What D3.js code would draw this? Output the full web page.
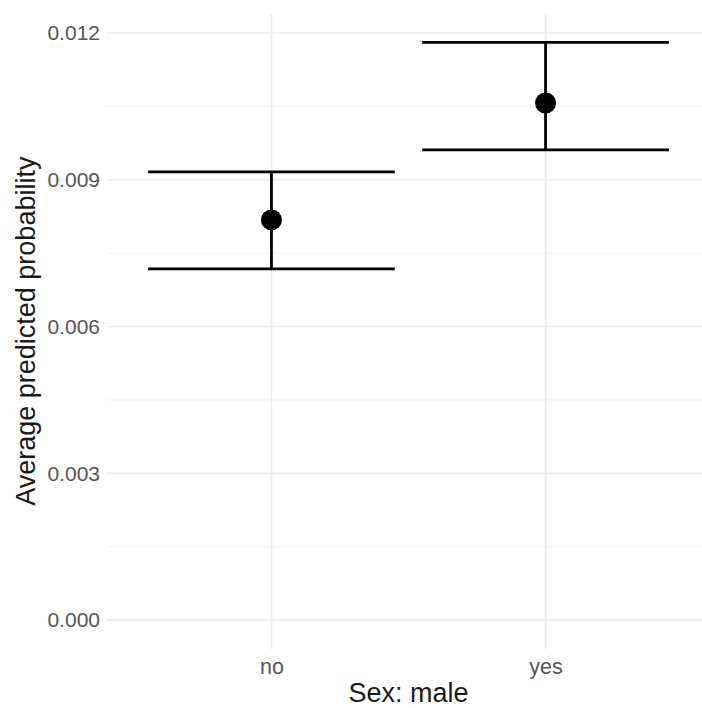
<!DOCTYPE html>
<html>
<head>
<meta charset="utf-8">
<script src="https://cdn.jsdelivr.net/npm/d3@7"></script>
<style>
  html, body { margin: 0; padding: 0; background: #fff; }
  svg { display: block; }
</style>
</head>
<body>
<svg id="chart" width="702" height="708"></svg>
<script>
const categories = ["no", "yes"];
const estimates = [0.00818, 0.01057];
const lowerCI = [0.00718, 0.00961];
const upperCI = [0.00916, 0.01181];
const yTicks = [0, 0.003, 0.006, 0.009, 0.012];
const yMinorTicks = [0.0015, 0.0045, 0.0075, 0.0105];
const xTitle = "Sex: male";
const yTitle = "Average predicted probability";

(function () {
const data = categories.map((c, i) => ({ cat: c, est: estimates[i], lo: lowerCI[i], hi: upperCI[i] }));

const svg = d3.select("#chart");
const pLeft = 107, pRight = 710, pTop = 13.4, pBottom = 649;
const FONT = "Liberation Sans, Arial, Helvetica, sans-serif";

const yMin = 0, yMax = d3.max(upperCI);
const pad = (yMax - yMin) * 0.05;
const y = d3.scaleLinear().domain([yMin - pad, yMax + pad]).range([pBottom, pTop]);

// discrete x: positions 1..n with 0.6 expansion
const x = d3.scaleLinear().domain([0.4, categories.length + 0.6]).range([pLeft, pRight]);
const xPos = c => x(categories.indexOf(c) + 1);
const unit = x(2) - x(1);

const grid = svg.append("g");
grid.selectAll(".minor").data(yMinorTicks).join("line")
  .attr("x1", pLeft).attr("x2", pRight)
  .attr("y1", d => y(d)).attr("y2", d => y(d))
  .attr("stroke", "#f2f2f2").attr("stroke-width", 1);
grid.selectAll(".major").data(yTicks).join("line")
  .attr("x1", pLeft).attr("x2", pRight)
  .attr("y1", d => y(d)).attr("y2", d => y(d))
  .attr("stroke", "#ebebeb").attr("stroke-width", 1.6);
grid.selectAll(".vmajor").data(categories).join("line")
  .attr("x1", d => xPos(d)).attr("x2", d => xPos(d))
  .attr("y1", pTop).attr("y2", pBottom)
  .attr("stroke", "#ebebeb").attr("stroke-width", 1.6);

// y axis labels
const yAxis = d3.axisLeft(y).tickValues(yTicks).tickFormat(d3.format(".3f")).tickSize(0).tickPadding(7);
const yg = svg.append("g").attr("transform", `translate(${pLeft},0)`).call(yAxis);
yg.select(".domain").remove();
yg.selectAll("text").attr("font-family", FONT)
  .attr("font-size", 21).attr("fill", "#555");

// x axis labels
const xAxis = d3.axisBottom(d3.scalePoint().domain(categories).range([x(1), x(2)]))
  .tickSize(0).tickPadding(0);
const xg = svg.append("g").attr("transform", `translate(0,${pBottom})`).call(xAxis);
xg.select(".domain").remove();
xg.selectAll("text").attr("font-family", FONT)
  .attr("font-size", 21.5).attr("fill", "#555").attr("dy", 0).attr("y", 25);

// titles
svg.append("text").attr("x", (pLeft + pRight) / 2).attr("y", 702)
  .attr("text-anchor", "middle").attr("font-family", FONT)
  .attr("font-size", 27).attr("fill", "#1a1a1a").text(xTitle);
svg.append("text").attr("transform", `translate(35,${(pTop + pBottom) / 2}) rotate(-90)`)
  .attr("text-anchor", "middle").attr("font-family", FONT)
  .attr("font-size", 27).attr("fill", "#1a1a1a").text(yTitle);

// error bars
const eb = svg.append("g").attr("stroke", "#000").attr("stroke-width", 2.8).attr("fill", "none");
const half = unit * 0.45;
eb.selectAll(".v").data(data).join("line")
  .attr("x1", d => xPos(d.cat)).attr("x2", d => xPos(d.cat))
  .attr("y1", d => y(d.lo)).attr("y2", d => y(d.hi));
eb.selectAll(".h1").data(data).join("line")
  .attr("x1", d => xPos(d.cat) - half).attr("x2", d => xPos(d.cat) + half)
  .attr("y1", d => y(d.hi)).attr("y2", d => y(d.hi));
eb.selectAll(".h2").data(data).join("line")
  .attr("x1", d => xPos(d.cat) - half).attr("x2", d => xPos(d.cat) + half)
  .attr("y1", d => y(d.lo)).attr("y2", d => y(d.lo));

// points
svg.append("g").selectAll("circle").data(data).join("circle")
  .attr("cx", d => xPos(d.cat)).attr("cy", d => y(d.est)).attr("r", 10.5).attr("fill", "#000");
})();
</script>
</body>
</html>
